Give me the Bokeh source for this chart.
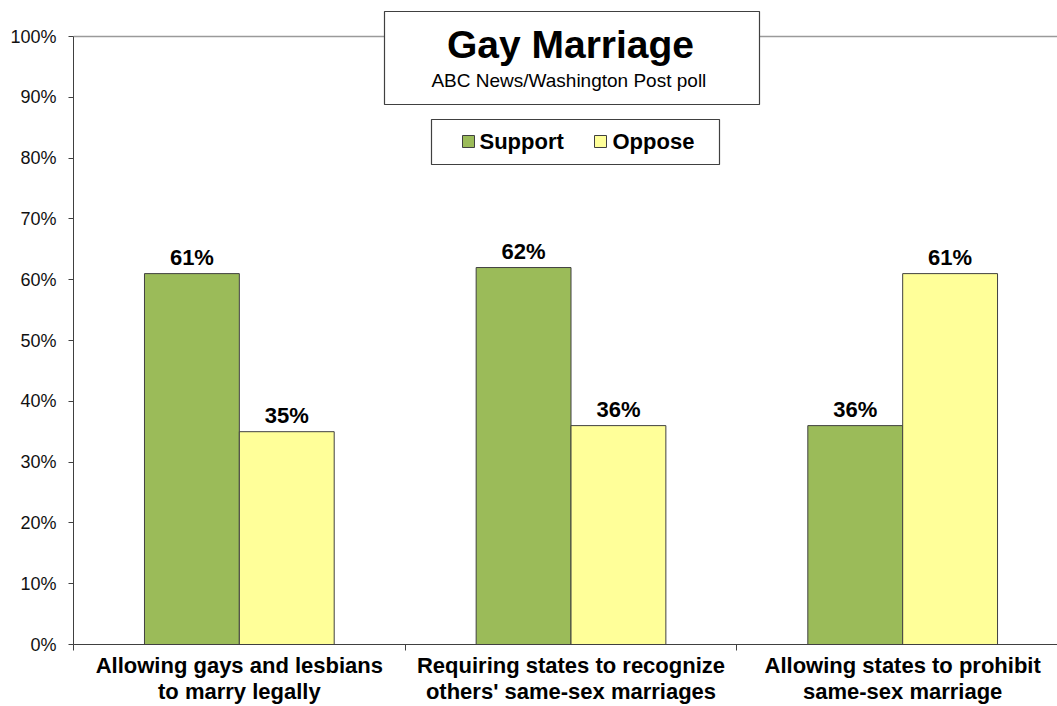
from bokeh.plotting import figure
from bokeh.models import FixedTicker, PrintfTickFormatter, Range1d, Span, ColumnDataSource
from bokeh.core.properties import value
from bokeh.embed import file_html
from bokeh.resources import INLINE

# ---- data ----
categories = [
    "Allowing gays and lesbians\nto marry legally",
    "Requiring states to recognize\nothers' same-sex marriages",
    "Allowing states to prohibit\nsame-sex marriage",
]
series = ["Support", "Oppose"]
support = [61, 62, 36]
oppose = [35, 36, 61]
y_ticks = [0, 10, 20, 30, 40, 50, 60, 70, 80, 90, 100]
colors = ["#9BBB59", "#FFFF99"]
title_text = "Gay Marriage"
subtitle_text = "ABC News/Washington  Post poll"

FONT = value("Liberation Sans")
EDGE = "#404040"

W, H = 1057, 706
LEFT, BOTTOM, TOP = 73, 62, 5
PX_PER_CAT = 331.67
PX_PER_PCT = 6.08

p = figure(width=W, height=H, output_backend="svg", toolbar_location=None,
           x_range=Range1d(0, (W - LEFT) / PX_PER_CAT),
           y_range=Range1d(0, (H - BOTTOM - TOP) / PX_PER_PCT))
p.min_border_left = LEFT
p.min_border_right = 0
p.min_border_top = TOP
p.min_border_bottom = BOTTOM
p.outline_line_color = None
p.xgrid.visible = False
p.ygrid.visible = False
p.background_fill_color = "white"
p.border_fill_color = "white"

# top border line of the plot area
top_line = Span(location=100, dimension="width", line_color="#9a9a9a", line_width=1.5, level="underlay")
p.add_layout(top_line)

# ---- bars ----
n = len(categories)
bw = 0.286
xs_support = [i + 0.5 - bw / 2 for i in range(n)]
xs_oppose = [i + 0.5 + bw / 2 for i in range(n)]
src = ColumnDataSource(dict(xs=xs_support, xo=xs_oppose, s=support, o=oppose,
                            ls=[f"{v}%" for v in support], lo=[f"{v}%" for v in oppose]))
p.vbar(x="xs", top="s", width=bw, source=src, fill_color=colors[0], line_color=EDGE, line_width=1)
p.vbar(x="xo", top="o", width=bw, source=src, fill_color=colors[1], line_color=EDGE, line_width=1)
for xcol, ycol, lcol in (("xs", "s", "ls"), ("xo", "o", "lo")):
    p.text(x=xcol, y=ycol, text=lcol, source=src, text_align="center", text_baseline="alphabetic",
           y_offset=-16, text_font=FONT, text_font_style="bold", text_font_size="22px", text_color="black")

# ---- axes ----
p.yaxis.ticker = FixedTicker(ticks=y_ticks, minor_ticks=[])
p.yaxis.formatter = PrintfTickFormatter(format="%d%%")
p.yaxis.bounds = (0, 100)
p.yaxis.major_tick_out = 5
p.yaxis.major_tick_in = 0
p.yaxis.minor_tick_line_color = None
p.yaxis.axis_line_color = EDGE
p.yaxis.major_tick_line_color = EDGE
p.yaxis.major_label_text_font = "Liberation Sans"
p.yaxis.major_label_text_font_size = "18px"
p.yaxis.major_label_text_color = "#111111"
p.yaxis.major_label_standoff = 12

p.xaxis.ticker = FixedTicker(ticks=[i + 0.5 for i in range(n)], minor_ticks=list(range(n + 1)))
p.xaxis.major_label_overrides = {i + 0.5: c for i, c in enumerate(categories)}
p.xaxis.major_tick_out = 0
p.xaxis.major_tick_in = 0
p.xaxis.minor_tick_out = 6
p.xaxis.minor_tick_in = 0
p.xaxis.axis_line_color = EDGE
p.xaxis.minor_tick_line_color = EDGE
p.xaxis.major_label_text_font = "Liberation Sans"
p.xaxis.major_label_text_font_style = "bold"
p.xaxis.major_label_text_font_size = "22px"
p.xaxis.major_label_text_line_height = 1.05
p.xaxis.major_label_text_color = "black"
p.xaxis.major_label_standoff = 2


def dx(px):
    return (px - LEFT) / PX_PER_CAT


def dy(py):
    return (H - BOTTOM - py) / PX_PER_PCT


# ---- title box ----
p.quad(left=[dx(384)], right=[dx(759)], top=[dy(11)], bottom=[dy(104)],
       fill_color="white", line_color=EDGE, line_width=1.2)
p.text(x=[dx(570)], y=[dy(44)], text=[title_text], text_align="center", text_baseline="alphabetic",
       text_font=FONT, text_font_style="bold", text_font_size="39px", text_color="black")
p.text(x=[dx(571)], y=[dy(80)], text=[subtitle_text], text_align="center", text_baseline="alphabetic",
       text_font=FONT, text_font_size="19px", text_color="black")

# ---- legend box ----
p.quad(left=[dx(431)], right=[dx(719)], top=[dy(119)], bottom=[dy(164)],
       fill_color="white", line_color=EDGE, line_width=1.2)
p.scatter(x=[dx(468), dx(600)], y=[dy(141), dy(141)], marker="square", size=12,
          fill_color=colors, line_color=EDGE, line_width=1)
p.text(x=[dx(479), dx(612)], y=[dy(141), dy(141)], text=series, text_align="left",
       text_baseline="alphabetic", text_font=FONT, text_font_style="bold",
       text_font_size="22px", text_color="black")

open("out.html", "w").write(file_html(p, INLINE))
